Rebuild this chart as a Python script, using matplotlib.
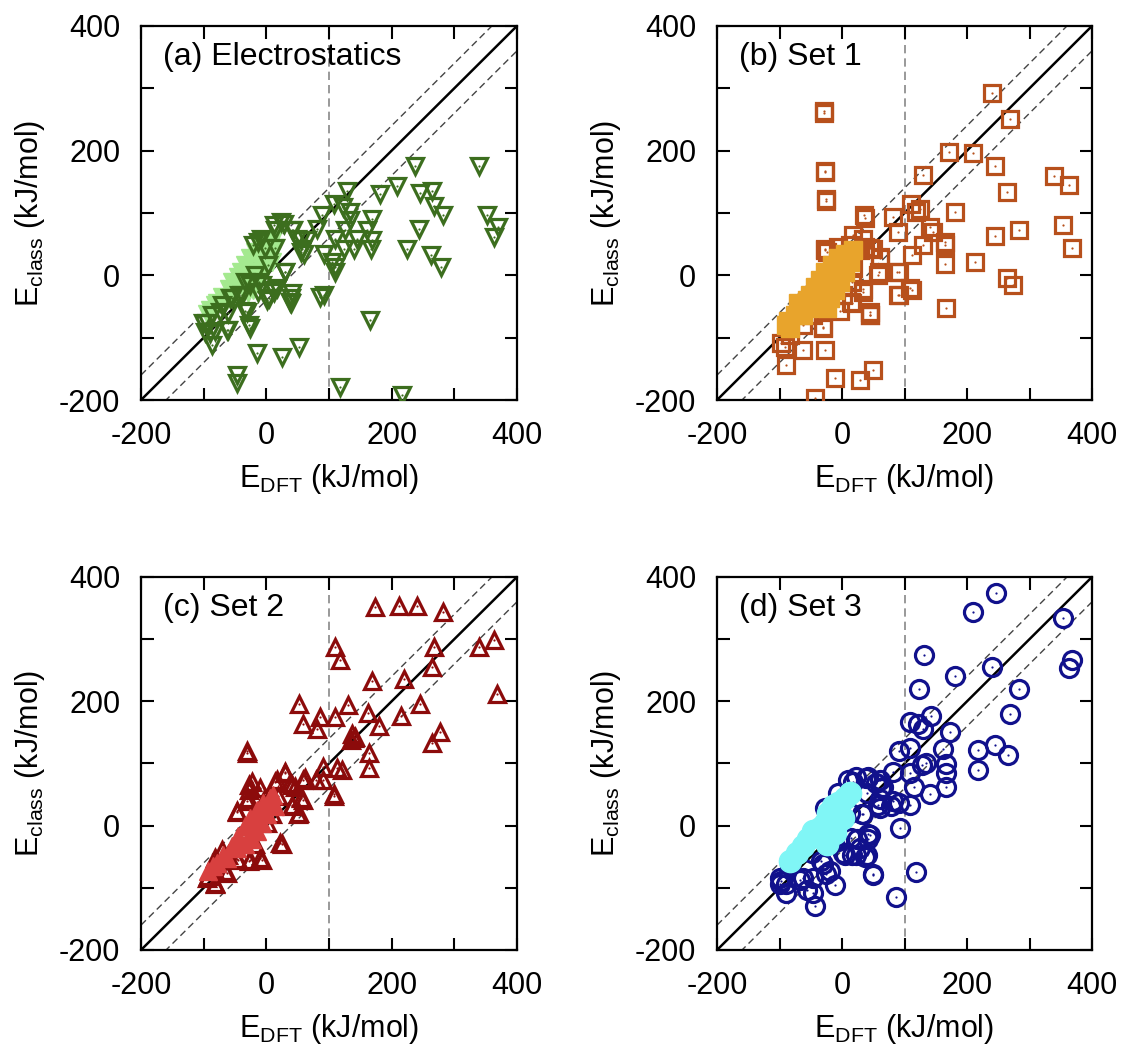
import matplotlib
matplotlib.use('Agg')
import matplotlib.pyplot as plt

plt.rcParams['font.family'] = ['Liberation Sans', 'DejaVu Sans']
plt.rcParams['mathtext.fontset'] = 'custom'
plt.rcParams['mathtext.rm'] = 'Liberation Sans'
plt.rcParams['mathtext.it'] = 'Liberation Sans:italic'

# ---- (a) Electrostatics ----
a_open_x = [340, 238, 209, 182, 129, 246, 265, 108, 123, 134, 89, 134, 169, 268, 282, 353, 369, 363,
            244, 126, 110, 145, 161, 169, 167, 140, 124, 225, 263, 279, 92, 105, 110, 109, 81, 65,
            57, 60, 41, 28, 12, 49, 30, 41, 38, 92, 166, 12, 4, 17, -31, -28, -63, -74, -90, -87,
            -95, -98, -15, 25, 52, -47, -47, 118, 217, -58, -44, -26, -12,
            23, 43, 14, 56, 56, 30, 11, 40, 40, 1, -13, -34, -61, -82, -101, -61, -26, 86,
            -13, -8, -21, -2, 3, -18, -7, -34, 14, -55, -39, -71, -87]
a_open_y = [176, 175, 144, 130, 136, 132, 136, 115, 109, 101, 96, 88, 91, 112, 96, 96, 77, 61,
            75, 72, 59, 59, 72, 56, 43, 43, 43, 43, 32, 13, 35, 21, 13, 5, 75, 56,
            43, 35, 72, 83, 80, 59, 5, -29, -43, -32, -72, -27, -37, -21, -59, -80, -88, -59, -93, -112,
            -77, -91, -125, -131, -115, -160, -173, -179, -192, -37, -32, -16, -11,
            86, 73, 73, 57, 38, 6, -23, -37, -45, -40, -26, -58, -60, -90, -76, -88, -84, -34,
            54, 59, 49, 44, 17, 1, -15, -10, 44, -37, -31, -48, -64]
a_fill_x = [-90, -71, -55, -45, -34, -26, -18, -7, 6, 11, 14, 1, -13, -23, -13, -21, -29, -39,
            -50, -63, -82, -5, 9, -29, -95, -78, -60, -40]
a_fill_y = [-56, -34, -10, -2, 17, 27, 38, 46, 54, 57, 44, 33, 22, 6, -8, -23, -29, -18,
            -29, -40, -48, 11, 22, -5, -62, -45, -22, 5]

# ---- (b) Set 1 ----
b_open_x = [240, 269, -29, -29, -28, -28, -26, -26, 171, 209, 245, 130, 340, 364, 264, 110, 124, 118,
            180, 35, 81, 89, 140, 145, 353, 283, 244, 368, 129, 164, 164, 112, 165, 213, 60, 59,
            91, 264, 274, 33, 91, 109, 112, 167, 14, 44, 44, -31, -63, -27, -89, -98, -91, -12,
            28, 49, -44, -28, -28, 17, 33, 49,
            37, -24, 13, 37, 45, 61, 58, 88, 90, 34, 16, 45, -30, -3, 18, 16, 2, -46, -62,
            -83, -46, 29, -6]
b_open_y = [292, 250, 264, 261, 168, 165, 123, 120, 198, 197, 175, 161, 160, 145, 133, 115, 107, 101,
            102, 96, 94, 69, 77, 69, 80, 72, 63, 44, 48, 48, 53, 32, 18, 21, 29, 5,
            5, -5, -16, -22, -31, -20, -24, -53, -43, -59, -64, -83, -120, -119, -144, -109, -115, -164,
            -168, -152, -197, 43, 40, 64, 59, 43,
            92, 38, 49, 46, 44, 28, 1, 6, -31, -26, -45, -64, -85, -58, 11, -10, -31, -48, -80,
            -96, -64, 41, 46]
b_fill_x = [-86, -75, -67, -56, -51, -43, -35, -27, -16, -6, 5, 18, 13, 5, -3, -11, -19, -24,
            -54, -27, -83, -62, -38, -48, -90, -70, -14, 0]
b_fill_y = [-74, -64, -53, -40, -31, -18, -7, 6, 17, 27, 35, 41, 22, 6, -10, -23, -37, -53,
            -53, -26, -85, -64, -37, -48, -80, -45, 0, 15]

# ---- (c) Set 2 ----
c_open_x = [173, 211, 240, 282, 110, 118, 268, 339, 364, 264, 368, 168, 219, 52, 130, 245, 162, 215,
            86, 110, 58, 81, 180, 136, 142, 135, 140, 277, 265, 164, 164, 91, 91, 113, 121, 108,
            108, -31, -31, 30, 14, 38, 58, 46, -28, -28, 52, 41, 58, -47, -31, 25, -10, -63,
            -82, -95, -84, -47, -28,
            -23, 30, 62, 17, 41, 80, 56, 19, -29, -47, 41, 51, 22, 9, 1, -18, -26, -45,
            -61, -71, -82, -93, -82, -66, -7, -10, -2]
c_open_y = [352, 354, 353, 344, 288, 267, 288, 287, 298, 256, 211, 233, 236, 195, 194, 196, 182, 176,
            175, 175, 163, 155, 160, 147, 143, 138, 141, 150, 133, 117, 92, 95, 74, 92, 90, 47,
            51, 117, 120, 84, 71, 68, 74, 63, 66, 58, 20, 34, 42, 22, 40, -30, -52, -76,
            -94, -84, -70, -54, -57,
            71, 87, 76, 74, 66, 74, 44, 47, 44, 23, 31, 18, -28, 18, 4, -30, -55, -55,
            -47, -39, -52, -81, -92, -73, -55, 60, 44]
c_fill_x = [-93, -79, -69, -55, -45, -34, -26, -15, -5, 6, 11, 1, -7, -15, -23, -34, -20, -47,
            -63, -85, 14, -13]
c_fill_y = [-73, -60, -47, -33, -17, -1, 12, 26, 36, 44, 50, 18, 4, -9, -22, -30, -5, -36,
            -52, -65, 31, 10]

# ---- (d) Set 3 ----
d_open_x = [246, 209, 353, 131, 368, 363, 240, 180, 123, 283, 142, 269, 108, 121, 130, 172, 91, 109,
            161, 217, 244, 265, 217, 166, 166, 128, 134, 81, 109, 115, 166, 140, 78, 91, 108, 60,
            60, 32, 92, 14, 44, 41, 4, 22, 36, 49, 119, 86, -47, -44, -12, -26, -31, -63,
            -98, -89, -89, 9, 22, 38, 54, 62, -28,
            18, 42, 61, 66, -6, 40, 58, 82, 34, 13, -11, 24, 42, 29, 40, 16, 2, -33, -19,
            50, -46, -67, -99, -99, -56, -6, -40, -48, -6, -83]
d_open_y = [374, 344, 334, 275, 266, 254, 256, 240, 220, 220, 177, 180, 166, 163, 155, 151, 120, 125,
            124, 122, 129, 113, 90, 99, 84, 98, 100, 87, 85, 63, 63, 51, 31, 36, 33, 28,
            43, 19, -3, -20, -15, -21, -47, -47, -50, -77, -74, -115, -108, -130, -96, -77, -61, -84,
            -89, -108, -94, 74, 79, 76, 68, 60, 28,
            71, 79, 74, 63, 52, 52, 34, 39, 18, 20, 10, -22, -14, -36, -47, -47, -44, -57, -73,
            -79, -84, -87, -84, -94, -103, 34, -12, -44, -25, -63]
d_fill_x = [-83, -72, -62, -46, -35, -27, -22, -14, -6, 5, 13, -22, -11, -24, 2, -8, -54, -27]
d_fill_y = [-57, -44, -33, -9, -4, 4, 20, 31, 36, 44, 52, -22, -12, -30, 12, 5, -22, -18]

panels = [
    ('(a) Electrostatics', a_open_x, a_open_y, a_fill_x, a_fill_y, 'v', '#3c6e1e', '#a4e98f', False),
    ('(b) Set 1', b_open_x, b_open_y, b_fill_x, b_fill_y, 's', '#b7501c', '#e8a42c', True),
    ('(c) Set 2', c_open_x, c_open_y, c_fill_x, c_fill_y, '^', '#8c0b0b', '#d8403f', True),
    ('(d) Set 3', d_open_x, d_open_y, d_fill_x, d_fill_y, 'o', '#11118c', '#80f6f6', True),
]

positions = [
    [0.1252, 0.6194, 0.3339, 0.3559],
    [0.6368, 0.6194, 0.3330, 0.3559],
    [0.1252, 0.0961, 0.3339, 0.3549],
    [0.6368, 0.0961, 0.3330, 0.3549],
]

fig = plt.figure(figsize=(11.26, 10.51), dpi=100)

for pos, (title, ox, oy, fx, fy, mk, edge, fill, fill_on_top) in zip(positions, panels):
    ax = fig.add_axes(pos)
    lim = [-200, 400]
    # reference lines
    ax.plot(lim, lim, color='black', lw=1.8, zorder=1)
    ax.plot(lim, [v + 40 for v in lim], color='#444444', lw=1.0, ls=(0, (5, 3)), zorder=1)
    ax.plot(lim, [v - 40 for v in lim], color='#444444', lw=1.0, ls=(0, (5, 3)), zorder=1)
    ax.axvline(100, color='#888888', lw=1.2, ls=(0, (5, 3)), zorder=1)

    zf = 4 if fill_on_top else 2
    ms = 12 if mk != 'o' else 13
    fms = ms + 1 if mk != 'o' else ms + 3
    ax.plot(ox, oy, ls='none', marker=mk, ms=ms, mfc='none', mec=edge, mew=2.3, zorder=3)
    ax.plot(ox, oy, ls='none', marker='o', ms=1.6, color=edge, mew=0, zorder=3)
    ax.plot(fx, fy, ls='none', marker=mk, ms=fms, mfc=fill, mec=fill, mew=1.0, zorder=zf)

    ax.set_xlim(lim)
    ax.set_ylim(lim)
    ax.set_xticks([-200, -100, 0, 100, 200, 300, 400])
    ax.set_yticks([-200, -100, 0, 100, 200, 300, 400])
    ax.set_xticklabels(['-200', '', '0', '', '200', '', '400'])
    ax.set_yticklabels(['-200', '', '0', '', '200', '', '400'])
    ax.tick_params(direction='in', length=9, width=1.5, top=True, right=True,
                   labelsize=22, pad=15)
    for sp in ax.spines.values():
        sp.set_linewidth(1.6)

    ax.set_xlabel(r'E$_{\mathrm{DFT}}$ (kJ/mol)', fontsize=22, labelpad=8)
    ax.set_ylabel(r'E$_{\mathrm{class}}$ (kJ/mol)', fontsize=22)
    ax.yaxis.set_label_coords(-0.25, 0.5)
    ax.text(0.058, 0.917, title, transform=ax.transAxes, fontsize=23,
            ha='left', va='center', zorder=5)

plt.savefig('out.png', dpi=100)
